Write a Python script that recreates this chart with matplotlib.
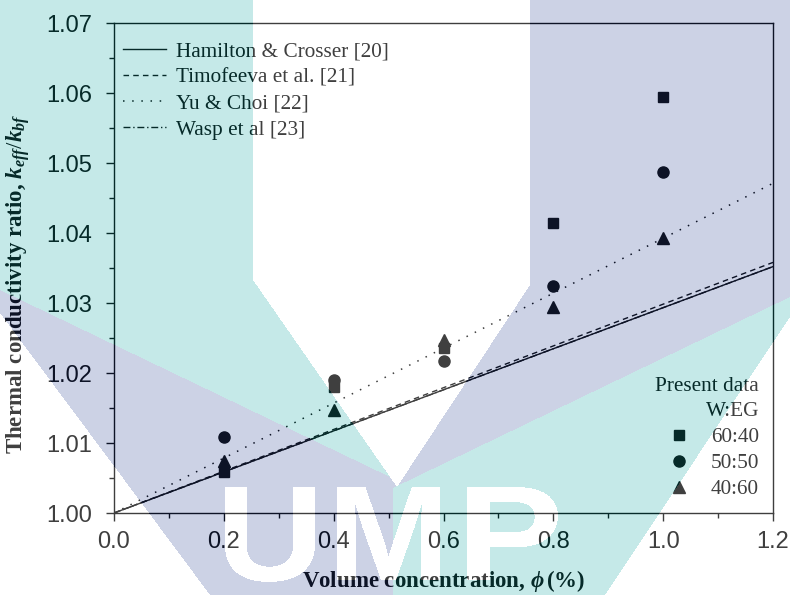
import numpy as np
import matplotlib
matplotlib.use('Agg')
import matplotlib.pyplot as plt
from matplotlib.path import Path
from matplotlib.textpath import TextPath
from matplotlib.font_manager import FontProperties
from matplotlib.transforms import Affine2D
from matplotlib.lines import Line2D
from matplotlib.ticker import MultipleLocator

# measured data (volume concentration in %)
phi = [0.2, 0.4, 0.6, 0.8, 1.0]
k_6040 = [1.0059, 1.0180, 1.0236, 1.0415, 1.0594]
k_5050 = [1.0109, 1.0190, 1.0217, 1.0325, 1.0487]
k_4060 = [1.0075, 1.0147, 1.0247, 1.0295, 1.0393]

# model predictions
phi_model = [0.0, 1.2]
k_hamilton = [1.0, 1.0352]
k_timofeeva = [1.0, 1.0358]
k_yu_choi = [1.0, 1.0471]
k_wasp = [1.0, 1.0352]

model_labels = ['Hamilton & Crosser [20]', 'Timofeeva et al. [21]',
                'Yu & Choi [22]', 'Wasp et al [23]']
data_labels = ['60:40', '50:50', '40:60']

plt.rcParams['font.family'] = 'Liberation Sans'
plt.rcParams['mathtext.fontset'] = 'custom'
plt.rcParams['mathtext.rm'] = 'Liberation Serif'
plt.rcParams['mathtext.it'] = 'Liberation Serif:italic'
plt.rcParams['mathtext.bf'] = 'Liberation Serif:bold'
plt.rcParams['mathtext.bfit'] = 'Liberation Serif:bold:italic'

W, H = 790, 595
fig = plt.figure(figsize=(W / 100, H / 100), dpi=100)
ax = fig.add_axes([114 / W, (H - 513) / H, 659 / W, 490 / H])

serif = FontProperties(family='Liberation Serif', size=15.3)
serif_bold = FontProperties(family='Liberation Serif', weight='bold', size=16.5)

l1, = ax.plot(phi_model, k_hamilton, '-', color='k', lw=1.0)
l2, = ax.plot(phi_model, k_timofeeva, color='k', lw=1.0, ls=(0, (4, 3)))
l3, = ax.plot(phi_model, k_yu_choi, color='k', lw=1.1, ls=(0, (1, 5)))
l4, = ax.plot(phi_model, k_wasp, color='k', lw=1.0, ls=(0, (5, 2, 1, 2)))

ax.plot(phi, k_6040, 's', color='k', ms=7.2, ls='none')
ax.plot(phi, k_5050, 'o', color='k', ms=8, ls='none')
ax.plot(phi, k_4060, '^', color='k', ms=9, ls='none')

ax.set_xlim(0, 1.2)
ax.set_ylim(1.0, 1.07)
ax.xaxis.set_major_locator(MultipleLocator(0.2))
ax.xaxis.set_minor_locator(MultipleLocator(0.1))
ax.yaxis.set_major_locator(MultipleLocator(0.01))
ax.yaxis.set_minor_locator(MultipleLocator(0.005))
ax.xaxis.set_major_formatter(plt.FormatStrFormatter('%.1f'))
ax.yaxis.set_major_formatter(plt.FormatStrFormatter('%.2f'))
ax.tick_params(which='major', direction='out', length=6, width=1, labelsize=17)
ax.tick_params(which='minor', direction='out', length=3.5, width=1)
ax.tick_params(axis='y', which='major', pad=10)
ax.tick_params(axis='x', which='major', pad=7)
for s in ax.spines.values():
    s.set_linewidth(1.0)

ax.set_xlabel(r'Volume concentration, $\mathbfit{\phi}\,$(%)', fontproperties=serif_bold)
ax.set_ylabel(r'Thermal conductivity ratio, $\mathbfit{k}_{\mathbfit{eff}}/\mathbfit{k}_{\mathbfit{bf}}$',
              fontproperties=serif_bold)
ax.xaxis.set_label_coords(0.5, -0.112)
ax.yaxis.set_label_coords(-0.125, 0.467)

leg1 = ax.legend([l1, l2, l3, l4], model_labels, loc='upper left', bbox_to_anchor=(0, 0.979),
                 borderaxespad=0, frameon=False, prop=serif, handlelength=2.07,
                 handletextpad=0.47, labelspacing=0.29)
ax.add_artist(leg1)

mk = [Line2D([], [], marker='s', color='k', ms=7.2, ls='none'),
      Line2D([], [], marker='o', color='k', ms=8, ls='none'),
      Line2D([], [], marker='^', color='k', ms=9, ls='none')]
leg2 = ax.legend(mk, data_labels, loc='lower right', bbox_to_anchor=(0.992, 0.011),
                 borderaxespad=0, frameon=False, prop=serif, title='Present data\nW:EG',
                 title_fontproperties=serif, alignment='right', handlelength=1.0,
                 handletextpad=1.0, labelspacing=0.29, numpoints=1)
leg2.get_title().set_multialignment('right')
leg2.get_title().set_linespacing(1.45)

# translucent watermark laid over the whole picture
lavender = (52, 76, 152)
teal = (24, 168, 164)
white = (255, 255, 255)
yy, xx = np.mgrid[0:H, 0:W]
pts = np.column_stack([xx.ravel() + 0.5, yy.ravel() + 0.5])
rgb = np.zeros((H, W, 3), dtype=np.uint8)
rgb[:] = lavender


def region(poly):
    return Path(poly).contains_points(pts).reshape(H, W)


rgb[region([(253, 0), (530, 0), (530, 285), (397, 487), (253, 280)])] = white
rgb[region([(0, 313), (210, 595), (0, 595)])] = white
rgb[region([(790, 317), (790, 595), (605, 595)])] = white
rgb[region([(0, 0), (253, 0), (253, 280), (390, 477), (0, 290)])] = teal
rgb[region([(790, 297), (790, 317), (605, 595), (393, 595), (393, 488)])] = teal

logo_font = FontProperties(family='Liberation Sans', weight='bold')
for letter, (bx0, bx1, by1) in zip('UMP', [(225, 315, 582), (337, 440, 580), (467, 558, 580)]):
    tp = TextPath((0, 0), letter, size=100, prop=logo_font)
    e = tp.get_extents()
    tr = Affine2D().translate(-e.x0, -e.y1).scale((bx1 - bx0) / e.width,
                                                  -(by1 - 487) / e.height).translate(bx0, 487)
    mask = np.zeros((H, W), dtype=bool)
    for poly in tp.to_polygons():
        mask ^= region(tr.transform(poly))
    rgb[mask] = white

overlay = np.dstack([rgb, np.full((H, W), 64, dtype=np.uint8)])
fig.figimage(overlay, xo=0, yo=0, origin='upper', zorder=10)

fig.savefig('out.png', dpi=100)
